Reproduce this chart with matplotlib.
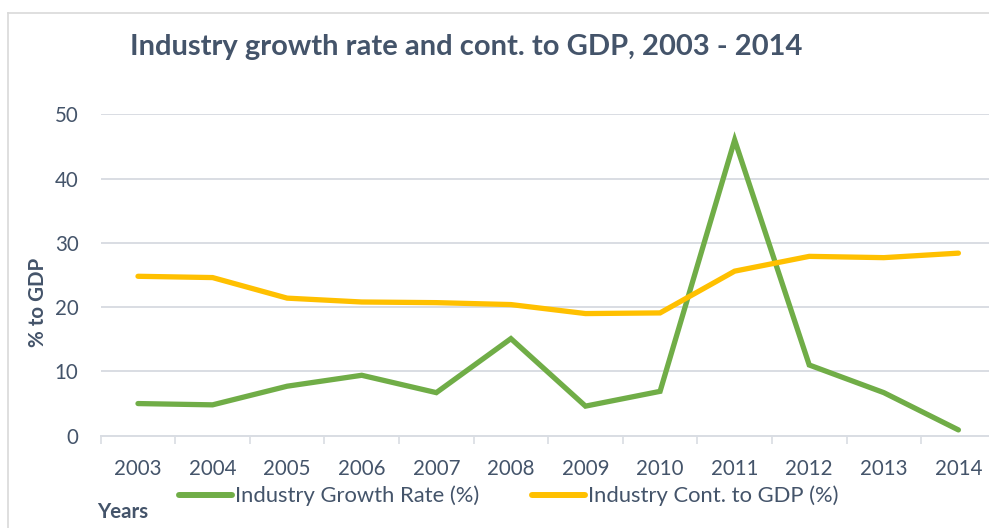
import matplotlib.pyplot as plt
from matplotlib.lines import Line2D

plt.rcParams['font.family'] = ['Lato', 'DejaVu Sans']

years = ['2003', '2004', '2005', '2006', '2007', '2008',
         '2009', '2010', '2011', '2012', '2013', '2014']
growth_rate = [5.0, 4.8, 7.7, 9.4, 6.7, 15.1, 4.6, 6.9, 46.0, 11.0, 6.7, 0.9]
cont_to_gdp = [24.8, 24.6, 21.4, 20.8, 20.7, 20.4, 19.0, 19.1, 25.6, 27.9, 27.7, 28.4]

txt = '#44546A'
grid = '#D9DDE3'
W, H = 989, 528

fig = plt.figure(figsize=(9.89, 5.28), dpi=100)
ax = fig.add_axes([100.7 / W, 1 - 435.7 / H, 895 / W, (435.7 - 114.3) / H])

x = range(len(years))
ax.plot(x, growth_rate, color='#70AD47', lw=3.8, solid_capstyle='round',
        solid_joinstyle='miter', label='Industry Growth Rate (%)')
ax.plot(x, cont_to_gdp, color='#FFC000', lw=3.8, solid_capstyle='round',
        solid_joinstyle='miter', label='Industry Cont. to GDP (%)')

ax.set_xlim(-0.5, len(years) - 0.5)
ax.set_ylim(0, 50)
ax.set_yticks(range(0, 51, 10))
ax.set_xticks(list(x))
ax.set_xticklabels(years)
ax.set_xticks([i - 0.5 for i in range(len(years) + 1)], minor=True)

ax.grid(axis='y', color=grid, lw=1.4)
ax.set_axisbelow(True)
for s in ['top', 'right', 'left']:
    ax.spines[s].set_visible(False)
ax.spines['bottom'].set_color(grid)
ax.spines['bottom'].set_linewidth(1.4)

ax.tick_params(axis='x', which='major', length=0, pad=17, labelsize=14.8, labelcolor=txt)
ax.tick_params(axis='x', which='minor', length=5.5, width=1.2, color=grid)
ax.tick_params(axis='y', length=0, pad=16, labelsize=14.8, labelcolor=txt)

fig.text(130 / W, 1 - 47 / H, 'Industry growth rate and cont. to GDP, 2003 - 2014',
         fontsize=21, fontweight='bold', color=txt, va='center', ha='left')
fig.text(38 / W, 1 - 302 / H, '% to GDP', rotation=90, fontsize=14.8,
         fontweight='bold', color=txt, va='center', ha='center')
fig.text(97 / W, 1 - 512 / H, 'Years', fontsize=14.8, fontweight='bold',
         color=txt, va='center', ha='left')

leg = fig.legend(loc='center', bbox_to_anchor=(509 / W, 1 - 496 / H), ncol=2,
                 frameon=False, fontsize=15.8, handlelength=2.4,
                 handletextpad=0.15, columnspacing=2.4, labelcolor=txt,
                 borderpad=0)
for h in leg.get_lines():
    h.set_linewidth(4.3)
    h.set_solid_capstyle('round')

# chart area border (top and left edges visible)
fig.add_artist(Line2D([8 / W, 8 / W], [0, 1 - 13 / H], color='#D9D9D9', lw=1.2))
fig.add_artist(Line2D([8 / W, 1], [1 - 13 / H, 1 - 13 / H], color='#D9D9D9', lw=1.2))

fig.savefig('out.png', dpi=100)
